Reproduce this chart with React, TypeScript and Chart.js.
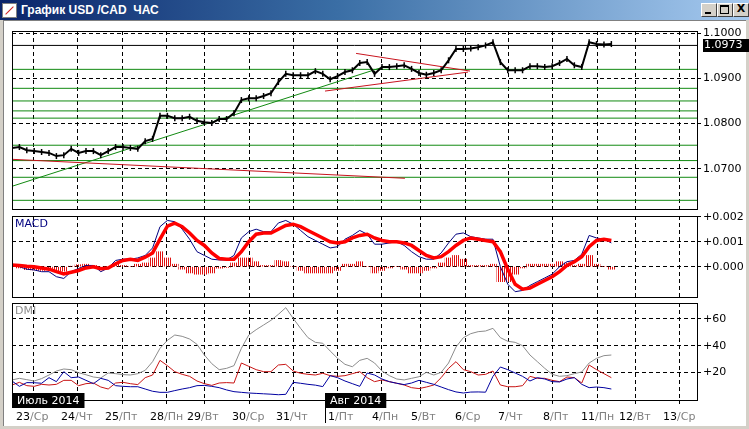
import React, { useEffect, useRef } from 'react';
import { Chart, registerables } from 'chart.js';

Chart.register(...registerables);
Chart.defaults.font.family = '"DejaVu Sans", sans-serif';

// ---- time axis (hours since first bar) ----
const STEP_HOURS = 4;
const X_MAX = 370.3;
const DAY_TICKS = [11.5, 35.5, 59.6, 83.6, 104, 128.3, 152, 176, 199.8, 220.9, 244.9, 268.3, 292.3, 316.6, 337.1, 361.1];
const DAY_NUMS = ['23', '24', '25', '28', '29', '30', '31', '1', '4', '5', '6', '7', '8', '11', '12', '13'];
const DAY_NAMES = ['Ср', 'Чт', 'Пт', 'Пн', 'Вт', 'Ср', 'Чт', 'Пт', 'Пн', 'Вт', 'Ср', 'Чт', 'Пт', 'Пн', 'Вт', 'Ср'];
const MONTH_LABELS = ['Июль 2014', 'Авг 2014'];
const MONTH_STARTS = [0, 169.2];

// ---- price panel ----
const PRICE = [
  1.0746, 1.0748, 1.0741, 1.0739, 1.0737, 1.0735, 1.0728, 1.0730, 1.0744, 1.0735,
  1.0739, 1.0739, 1.0730, 1.0739, 1.0748, 1.0748, 1.0746, 1.0744, 1.0761, 1.0766,
  1.0817, 1.0817, 1.0812, 1.0812, 1.0815, 1.0806, 1.0803, 1.0801, 1.0810, 1.0810,
  1.0823, 1.0852, 1.0856, 1.0856, 1.0861, 1.0867, 1.0892, 1.0910, 1.0907, 1.0907,
  1.0907, 1.0916, 1.0910, 1.0898, 1.0905, 1.0914, 1.0918, 1.0934, 1.0936, 1.0910,
  1.0925, 1.0925, 1.0927, 1.0929, 1.0921, 1.0912, 1.0908, 1.0912, 1.0918, 1.0940,
  1.0965, 1.0965, 1.0966, 1.0969, 1.0973, 1.0980, 1.0936, 1.0918, 1.0918, 1.0918,
  1.0927, 1.0927, 1.0925, 1.0927, 1.0934, 1.0943, 1.0929, 1.0925, 1.0980, 1.0976,
  1.0975, 1.0976,
];
const PRICE_MIN = 1.06108;
const PRICE_MAX = 1.10049;
const PRICE_TICKS = [1.1, 1.09, 1.08, 1.07];
const CURRENT_PRICE = 1.0973;
const LEVELS = [1.092, 1.0878, 1.085, 1.0828, 1.0812, 1.0752, 1.0718, 1.0681, 1.063];
// [startHour, startPrice, endHour, endPrice]
const GREEN_TRENDS = [[0, 1.06611, 198.9, 1.09228]];
const RED_TRENDS = [
  [0, 1.07208, 212.4, 1.06788],
  [186, 1.09553, 247.6, 1.09162],
  [169.2, 1.08719, 246.5, 1.09139],
];

// ---- MACD panel (units of 0.001) ----
const MACD_UNIT = 0.001;
const MACD_LINE = [
  0.07, 0.0, -0.1, -0.13, -0.2, -0.2, -0.4, -0.47, -0.2, -0.07,
  0.05, 0.05, -0.2, -0.05, 0.25, 0.3, 0.3, 0.35, 0.45, 0.75,
  1.6, 1.85, 1.8, 1.5, 1.1, 0.6, 0.45, 0.3, 0.27, 0.27,
  0.45, 1.15, 1.4, 1.5, 1.4, 1.4, 1.75, 1.85, 1.7, 1.45,
  1.2, 1.05, 0.9, 0.75, 0.8, 1.1, 1.25, 1.45, 1.3, 0.9,
  0.9, 0.95, 1.0, 0.85, 0.6, 0.4, 0.3, 0.3, 0.55, 0.95,
  1.3, 1.35, 1.2, 1.15, 1.1, 1.1, 0.0, -0.7, -1.0, -0.95,
  -0.75, -0.6, -0.45, -0.3, 0.0, 0.2, 0.25, 0.5, 1.25, 1.15,
  1.1, 0.95,
];
const MACD_SIGNAL = [
  0.07, 0.05, 0.02, 0.0, -0.05, -0.1, -0.2, -0.29, -0.22, -0.15,
  -0.05, 0.0, -0.08, -0.05, 0.12, 0.25, 0.3, 0.25, 0.38, 0.55,
  1.1, 1.62, 1.74, 1.6, 1.35, 1.05, 0.85, 0.55, 0.33, 0.3,
  0.3, 0.6, 1.0, 1.3, 1.35, 1.35, 1.5, 1.65, 1.7, 1.6,
  1.45, 1.3, 1.15, 1.0, 0.95, 1.0, 1.15, 1.25, 1.3, 1.15,
  1.05, 1.0, 1.0, 0.95, 0.85, 0.65, 0.45, 0.35, 0.4, 0.6,
  0.85, 1.05, 1.15, 1.1, 1.05, 1.0, 0.6, -0.1, -0.7, -0.9,
  -0.85, -0.7, -0.55, -0.4, -0.2, 0.05, 0.2, 0.4, 0.8, 1.05,
  1.1, 1.05,
];
const MACD_HIST = [
  0.0, -0.05, -0.12, -0.13, -0.15, -0.1, -0.2, -0.18, 0.02, 0.08,
  0.1, 0.05, -0.12, 0.0, 0.13, 0.05, 0.0, 0.1, 0.15, 0.35,
  0.6, 0.35, 0.1, -0.1, -0.25, -0.3, -0.3, -0.25, -0.06, -0.03,
  0.15, 0.35, 0.35, 0.2, 0.05, 0.05, 0.25, 0.2, 0.0, -0.15,
  -0.25, -0.25, -0.25, -0.25, -0.15, 0.1, 0.1, 0.2, 0.0, -0.25,
  -0.15, -0.05, 0.0, -0.1, -0.25, -0.25, -0.15, -0.05, 0.15, 0.35,
  0.45, 0.3, 0.05, 0.05, 0.05, 0.1, -0.6, -0.6, -0.3, -0.05,
  0.1, 0.1, 0.1, 0.1, 0.2, 0.15, 0.05, 0.1, 0.45, 0.1,
  0.0, -0.1,
];
const MACD_TICKS = [0, 1, 2];

// ---- DMI panel ----
const ADX = [
  14.3, 15.5, 14.5, 13.5, 15.3, 18, 21, 22.5, 22, 19.7,
  18.2, 16.5, 15.8, 19.5, 19, 18.3, 18, 19, 21.5, 28,
  38, 44, 48, 47, 45, 41, 33, 26.5, 22, 23,
  25, 38, 48, 52, 55.5, 59, 63.5, 68.5, 60.5, 53,
  46, 42.5, 41.8, 36, 30.5, 26, 24.2, 29, 30.5, 27,
  21, 17.5, 15, 14.3, 15.5, 16.7, 20, 18, 20, 27,
  39, 46, 49, 50.5, 51, 53, 46, 43.3, 42.5, 40,
  33, 28, 23, 18.5, 17, 17.5, 19, 20.3, 27, 30.5,
  32.5, 33,
];
const PLUS_DI = [
  10.5, 12.5, 10, 9.5, 11, 10.5, 11, 14, 14, 10,
  11.5, 12, 9, 7.5, 12, 12.5, 11.5, 10.8, 16, 18,
  29, 25, 20.5, 18.5, 17, 13.5, 11.5, 10.2, 12, 12.3,
  12, 27, 24.5, 22, 20.5, 20.5, 25.5, 26, 21, 19.3,
  18.5, 18, 19.3, 17.5, 17, 17.5, 19, 20.5, 16, 13,
  14.3, 13, 11.8, 10.5, 8.5, 7.8, 9, 10.5, 16, 23,
  28, 22, 20.5, 18, 18.5, 21, 10.5, 9.2, 9.2, 10,
  17, 15.5, 15.5, 14, 13, 16.5, 16, 12, 25.5, 22,
  19, 16,
];
const MINUS_DI = [
  13.5, 9.5, 12.3, 12.2, 11.8, 16, 13, 20.5, 16, 16.5,
  14, 11.5, 15.5, 14, 10, 9.5, 9.2, 9.2, 7.5, 5.8,
  5, 5, 6.3, 7.5, 8.5, 10, 10.2, 9.5, 8.5, 6.8,
  5.5, 5, 4.5, 4.2, 3.9, 3.6, 3.2, 3.5, 12.5, 11.8,
  11, 10.4, 9.3, 17.5, 16, 13.5, 11.5, 9.5, 19.5, 18,
  15, 13, 11.8, 10.8, 12, 14, 12.5, 11, 9, 7,
  5.3, 4.5, 5.2, 5.3, 5.1, 17, 24, 22, 19.5, 17,
  13.5, 16, 15, 13, 12.8, 15, 16, 11, 8.5, 9,
  8.5, 7.5,
];
const DMI_TICKS = [20, 40, 60];

const AXIS_FONT = { family: '"DejaVu Sans", sans-serif', size: 11 };

const pts = (arr: number[], k = 1) => arr.map((v, i) => ({ x: i * STEP_HOURS, y: v * k }));
const seg = (s: number[]) => [{ x: s[0], y: s[1] }, { x: s[2], y: s[3] }];

const noPad = (s: any) => {
  s.paddingTop = 0;
  s.paddingBottom = 0;
  s.paddingLeft = 0;
  s.paddingRight = 0;
};

function xScale(bottom: boolean) {
  return {
    type: 'linear', min: 0, max: X_MAX, offset: false,
    afterBuildTicks: (s: any) => { s.ticks = DAY_TICKS.map((v) => ({ value: v })); },
    ticks: { display: false },
    grid: { offset: false, color: '#000', lineWidth: 1, drawTicks: bottom, tickLength: 4, tickColor: '#000' },
    border: { display: false, dash: [4, 3] },
    afterFit: (s: any) => { s.height = bottom ? 29 : 3; noPad(s); },
  };
}

function yScale(min: number, max: number, ticks: number[], fmt: (v: number) => string) {
  return {
    type: 'linear', position: 'right', min, max, offset: false,
    afterBuildTicks: (s: any) => { s.ticks = ticks.map((v) => ({ value: v })); },
    ticks: { callback: (v: any) => fmt(Number(v)), color: '#000', font: AXIS_FONT, padding: 2, autoSkip: false },
    grid: { offset: false, color: '#000', lineWidth: 1, drawTicks: true, tickLength: 4, tickColor: '#000' },
    border: { display: false, dash: [4, 3] },
    afterFit: (s: any) => { s.width = 52; noPad(s); },
  };
}

const framePlugin = {
  id: 'frame',
  afterDatasetsDraw(chart: any) {
    const { ctx, chartArea: a } = chart;
    ctx.save();
    ctx.strokeStyle = '#000';
    ctx.lineWidth = 1;
    ctx.setLineDash([]);
    const l = Math.round(a.left) + 0.5, t = Math.round(a.top) + 0.5;
    const r = Math.round(a.right) + 0.5, b = Math.round(a.bottom) + 0.5;
    ctx.strokeRect(l, t, r - l, b - t);
    ctx.restore();
  },
};

const panelLabel = (text: string, color: string) => ({
  id: 'panelLabel',
  afterDraw(chart: any) {
    const { ctx, chartArea: a } = chart;
    ctx.save();
    ctx.font = '11px "DejaVu Sans"';
    ctx.fillStyle = color;
    ctx.textBaseline = 'top';
    ctx.textAlign = 'left';
    ctx.fillText(text, a.left + 3, a.top + 3);
    ctx.restore();
  },
});

const currentPricePlugin = {
  id: 'currentPrice',
  afterDraw(chart: any) {
    const { ctx, chartArea: a } = chart;
    const y = chart.scales.y.getPixelForValue(CURRENT_PRICE);
    ctx.save();
    ctx.fillStyle = '#000';
    ctx.fillRect(a.right + 6, Math.round(y) - 6, 46, 13);
    ctx.fillStyle = '#fff';
    ctx.font = '11px "DejaVu Sans"';
    ctx.textBaseline = 'middle';
    ctx.textAlign = 'left';
    ctx.fillText(CURRENT_PRICE.toFixed(4), a.right + 7, Math.round(y) + 0.5);
    ctx.restore();
  },
};

const timeAxisPlugin = {
  id: 'timeAxis',
  afterDraw(chart: any) {
    const { ctx, chartArea: a } = chart;
    const xs = chart.scales.x;
    ctx.save();
    ctx.font = '11px "DejaVu Sans"';
    ctx.textBaseline = 'middle';
    const ly = a.bottom + 17;
    DAY_TICKS.forEach((t, i) => {
      const x = Math.round(xs.getPixelForValue(t));
      ctx.textAlign = 'right';
      ctx.fillStyle = '#000';
      ctx.fillText(DAY_NUMS[i], x - 3, ly);
      ctx.textAlign = 'left';
      ctx.fillStyle = '#808080';
      ctx.fillText('/' + DAY_NAMES[i], x - 3, ly);
    });
    MONTH_LABELS.forEach((m, i) => {
      const x0 = Math.round(xs.getPixelForValue(MONTH_STARTS[i]));
      const w = ctx.measureText(m).width + 10;
      if (i > 0) {
        ctx.strokeStyle = '#000';
        ctx.lineWidth = 1;
        ctx.beginPath();
        ctx.moveTo(x0 + 0.5, a.bottom);
        ctx.lineTo(x0 + 0.5, a.bottom + 23);
        ctx.stroke();
      }
      ctx.fillStyle = '#000';
      ctx.fillRect(x0, a.bottom - 7, w, 15);
      ctx.fillStyle = '#fff';
      ctx.textAlign = 'left';
      ctx.fillText(m, x0 + 5, a.bottom + 1);
    });
    ctx.restore();
  },
};

const lineDs = (data: any[], color: string, width: number, order: number) => ({
  type: 'line', data, borderColor: color, borderWidth: width, pointRadius: 0,
  fill: false, tension: 0, order,
});

const baseOptions = (top: number) => ({
  responsive: false,
  animation: false,
  events: [],
  layout: { autoPadding: false, padding: { left: 12, top, right: 0, bottom: 0 } },
  plugins: { legend: { display: false }, tooltip: { enabled: false } },
});

function stripePattern(color: string): CanvasPattern | string {
  const c = document.createElement('canvas');
  c.width = 2;
  c.height = 1;
  const g = c.getContext('2d');
  if (!g) return color;
  g.fillStyle = color;
  g.fillRect(0, 0, 1, 1);
  return g.createPattern(c, 'repeat') || color;
}

export default function App() {
  const priceRef = useRef<HTMLCanvasElement>(null);
  const macdRef = useRef<HTMLCanvasElement>(null);
  const dmiRef = useRef<HTMLCanvasElement>(null);

  useEffect(() => {
    const charts: Chart[] = [];

    const priceDatasets: any[] = [
      {
        type: 'line', data: pts(PRICE), borderColor: '#000', borderWidth: 2, tension: 0, fill: false,
        pointStyle: 'line', pointRotation: 90, pointRadius: 3, pointBorderWidth: 1.5,
        pointBorderColor: '#000', order: 0,
      },
      lineDs([{ x: 0, y: CURRENT_PRICE }, { x: X_MAX, y: CURRENT_PRICE }], '#000', 1, 1),
      ...RED_TRENDS.map((s) => lineDs(seg(s), '#c8141e', 1, 2)),
      ...GREEN_TRENDS.map((s) => lineDs(seg(s), '#118a11', 1, 3)),
      ...LEVELS.map((v) => lineDs([{ x: 0, y: v }, { x: X_MAX, y: v }], '#118a11', 1, 4)),
    ];
    charts.push(new Chart(priceRef.current!, {
      type: 'line',
      data: { datasets: priceDatasets },
      options: {
        ...baseOptions(9),
        scales: { x: xScale(false), y: yScale(PRICE_MIN, PRICE_MAX, PRICE_TICKS, (v) => v.toFixed(4)) },
      } as any,
      plugins: [framePlugin, currentPricePlugin],
    } as any));

    charts.push(new Chart(macdRef.current!, {
      type: 'line',
      data: {
        datasets: [
          lineDs(pts(MACD_SIGNAL), '#ff0000', 3.5, 0),
          lineDs(pts(MACD_LINE), '#000080', 1, 1),
          {
            type: 'bar', data: pts(MACD_HIST), backgroundColor: stripePattern('#e01010'),
            barThickness: 7, order: 2,
          },
        ],
      },
      options: {
        ...baseOptions(8),
        scales: {
          x: xScale(false),
          y: yScale(-1.212, 2.028, MACD_TICKS, (v) => '+' + (v * MACD_UNIT).toFixed(3)),
        },
      } as any,
      plugins: [framePlugin, panelLabel('MACD', '#000080')],
    } as any));

    charts.push(new Chart(dmiRef.current!, {
      type: 'line',
      data: {
        datasets: [
          lineDs(pts(MINUS_DI), '#0000a0', 1, 0),
          lineDs(pts(PLUS_DI), '#c81414', 1, 1),
          lineDs(pts(ADX), '#8c8c8c', 1, 2),
        ],
      },
      options: {
        ...baseOptions(8),
        scales: {
          x: xScale(true),
          y: yScale(-0.75, 72, DMI_TICKS, (v) => '+' + v.toFixed(0)),
        },
      } as any,
      plugins: [framePlugin, panelLabel('DMI', '#8c8c8c'), timeAxisPlugin],
    } as any));

    return () => charts.forEach((c) => c.destroy());
  }, []);

  const btn = (left: number, child: React.ReactNode) => (
    <div style={{
      position: 'absolute', left, top: 3, width: 14, height: 12, background: '#d4d0c8',
      borderTop: '1px solid #fff', borderLeft: '1px solid #fff',
      borderRight: '1px solid #404040', borderBottom: '1px solid #404040',
    }}>{child}</div>
  );

  return (
    <div style={{
      position: 'fixed', left: 0, top: 0, width: 749, height: 429, background: '#d4d0c8',
      overflow: 'hidden', fontFamily: '"DejaVu Sans", sans-serif',
    }}>
      <div style={{
        position: 'absolute', left: 0, top: 0, width: 749, height: 20,
        background: 'linear-gradient(to right, #0a246a 0%, #3a6ea5 45%, #a6caf0 100%)',
      }}>
        <div style={{
          position: 'absolute', left: 2, top: 3, width: 13, height: 13, background: '#fff',
          border: '1px solid #808080',
        }}>
          <div style={{ position: 'absolute', left: 1, top: 6, width: 11, height: 1, background: '#d02020', transform: 'rotate(-45deg)' }} />
        </div>
        <div style={{
          position: 'absolute', left: 21, top: 0, lineHeight: '20px', color: '#fff',
          fontWeight: 'bold', fontSize: 12, fontFamily: '"Liberation Sans", Arial, sans-serif',
          whiteSpace: 'pre',
        }}>График USD /CAD  ЧАС</div>
        {btn(701, <div style={{ position: 'absolute', left: 3, top: 8, width: 6, height: 2, background: '#000' }} />)}
        {btn(717, <div style={{ position: 'absolute', left: 2, top: 1, width: 7, height: 6, border: '1px solid #000', borderTopWidth: 2 }} />)}
        {btn(733, <div style={{ position: 'absolute', left: 0, top: -2, width: 14, textAlign: 'center', fontSize: 11, fontWeight: 'bold', color: '#000', lineHeight: '14px' }}>X</div>)}
      </div>
      <div style={{
        position: 'absolute', left: 3, top: 20, width: 742, height: 405, background: '#fff',
        borderLeft: '1px solid #808080', borderTop: '1px solid #808080',
      }} />
      <canvas ref={priceRef} width={749} height={190} style={{ position: 'absolute', left: 0, top: 22 }} />
      <canvas ref={macdRef} width={749} height={92} style={{ position: 'absolute', left: 0, top: 208 }} />
      <canvas ref={dmiRef} width={749} height={134} style={{ position: 'absolute', left: 0, top: 295 }} />
    </div>
  );
}
